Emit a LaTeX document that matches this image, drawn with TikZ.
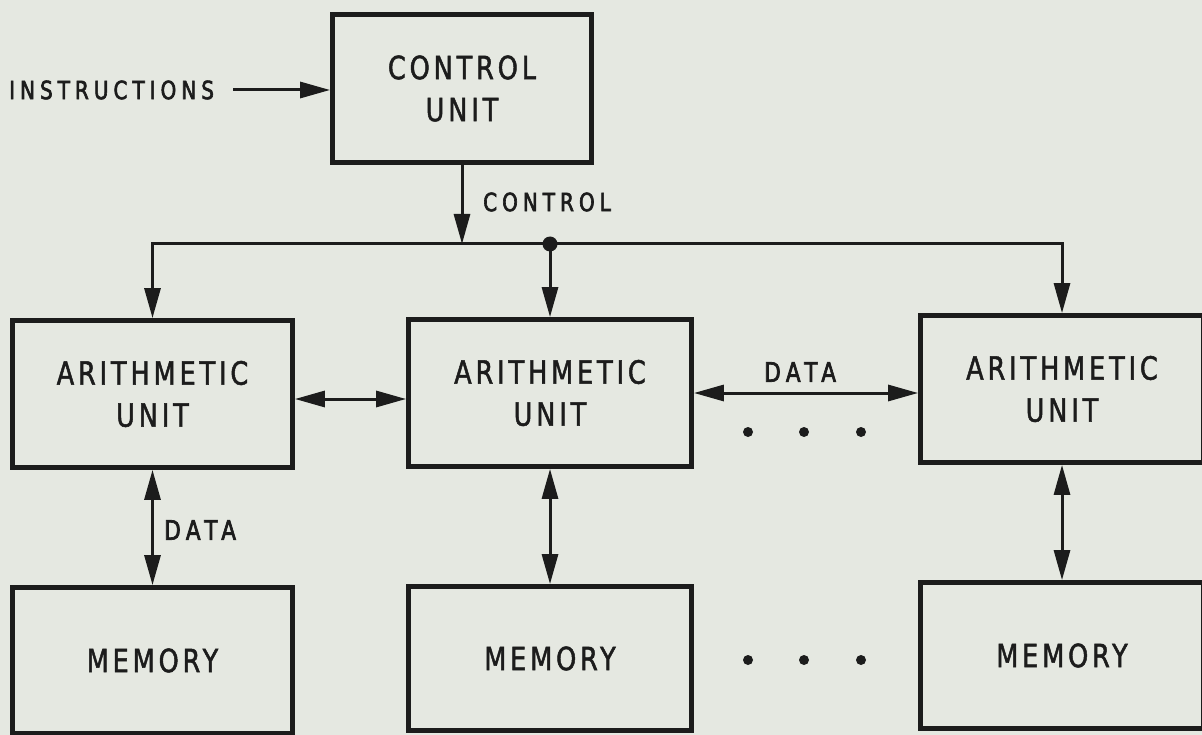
\documentclass[tikz,border=0pt]{standalone}
\usepackage{fontspec}
\usetikzlibrary{arrows.meta}
% narrow, letter-spaced lettering in the style of a stencil set
\newfontfamily\boxfont[FakeStretch=0.8,LetterSpace=12,FakeBold=1.5]{DejaVu Sans}
\newfontfamily\labfont[FakeStretch=0.8,LetterSpace=20,FakeBold=2.5]{DejaVu Sans}
\definecolor{paper}{RGB}{229,232,225}
\definecolor{ink}{RGB}{28,28,28}
\tikzset{
  unitbox/.style={draw=ink, line width=4.8pt, inner sep=0pt, align=center,
    text=ink, font=\boxfont\fontsize{32}{42}\selectfont},
  lab/.style={inner sep=0pt, anchor=west, text=ink,
    font=\labfont\fontsize{25}{30}\selectfont},
  biglab/.style={lab, font=\labfont\fontsize{27}{30}\selectfont},
  tip/.tip={Triangle[length=30pt,width=16pt]},
  arr/.style={draw=ink, line width=3pt, -tip},
  arrtwo/.style={draw=ink, line width=3pt, tip-tip},
  dot/.style={fill=ink}
}
\begin{document}
\begin{tikzpicture}[x=1pt,y=-1pt]
  \useasboundingbox (0,0) rectangle (1202,735);
  \fill[paper] (0,0) rectangle (1202,735);

  % control unit and its input
  \node[unitbox, minimum width=259pt, minimum height=148pt] (cu) at (462,88.5) {CONTROL\\UNIT};
  \node[lab] (instr) at (9,90) {INSTRUCTIONS};
  \draw[arr] ([xshift=19pt]instr.east) -- (instr.east -| cu.west);

  % arithmetic units
  \node[unitbox, minimum width=280pt, minimum height=147pt] (au1) at (152.5,394) {ARITHMETIC\\UNIT};
  \node[unitbox, minimum width=283pt, minimum height=147pt] (au2) at (550,393) {ARITHMETIC\\UNIT};
  \node[unitbox, minimum width=283pt, minimum height=147pt] (au3) at (1062,389) {ARITHMETIC\\UNIT};

  % memories
  \node[unitbox, minimum width=280pt, minimum height=146pt] (mem1) at (152.5,660.5) {MEMORY};
  \node[unitbox, minimum width=283pt, minimum height=144pt] (mem2) at (550,658.5) {MEMORY};
  \node[unitbox, minimum width=283pt, minimum height=146pt] (mem3) at (1062,655.5) {MEMORY};

  % control bus
  \coordinate (jc) at (462,244);
  \coordinate (jd) at (550,244);
  \draw[arr] (cu.south) -- (jc);
  \node[lab] (lctl) at (483,202) {CONTROL};
  \draw[arr] (jc) -| (au1.north);
  \draw[arr] (jc) -| (au3.north);
  \draw[arr] (jd) -- (au2.north);
  \fill[dot] (jd) circle (7.5);

  % data paths between arithmetic units
  \draw[arrtwo] ([yshift=-5pt]au1.east) -- ([yshift=-5pt]au1.east -| au2.west);
  \draw[arrtwo] (au2.east) -- (au2.east -| au3.west);
  \node[biglab] (ldata) at (764,372) {DATA};

  % data paths to memories
  \draw[arrtwo] (au1.south) -- (mem1.north);
  \draw[arrtwo] (au2.south) -- (mem2.north);
  \draw[arrtwo] (au3.south) -- (mem3.north);
  \node[biglab] (ldatb) at (164,530) {DATA};

  % ellipses for further units
  \foreach \x in {748,804,861} {
    \fill[dot] (\x,432) circle (5);
    \fill[dot] (\x,660) circle (5);
  }
\end{tikzpicture}
\end{document}
